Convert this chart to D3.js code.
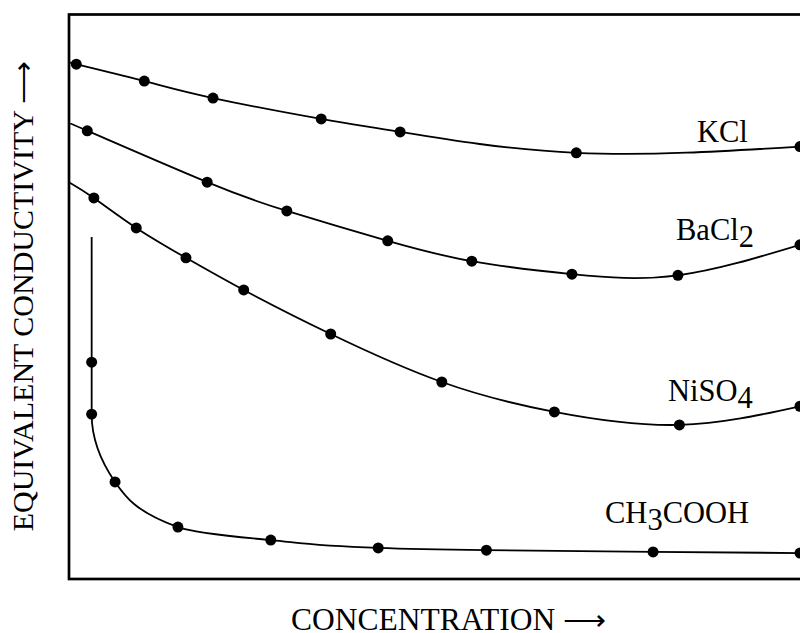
<!DOCTYPE html>
<html>
<head>
<meta charset="utf-8">
<script src="https://cdn.jsdelivr.net/npm/d3@7"></script>
<style>
  html, body { margin: 0; padding: 0; background: #fff; }
  svg { display: block; }
  text { font-family: "Liberation Serif", "Times New Roman", serif; fill: #000; }
</style>
</head>
<body>
<div id="chart"></div>
<script>
// ---- Data (arbitrary units: concentration 0-100, conductivity 0-100) ----
const seriesNames = ["KCl", "BaCl2", "NiSO4", "CH3COOH"];

const kclX = [1.0, 10.3, 19.7, 34.5, 45.3, 69.4, 100];
const kclY = [91.2, 88.2, 85.2, 81.5, 79.2, 75.5, 76.6];
const kclStart = [0, 91.6];

const bacl2X = [2.5, 18.9, 29.8, 43.6, 55.1, 68.8, 83.3, 100];
const bacl2Y = [79.4, 70.3, 65.2, 59.9, 56.3, 54.0, 53.8, 59.2];
const bacl2Start = [0, 80.8];

const niso4X = [3.4, 9.2, 16.0, 23.9, 35.8, 51.0, 66.4, 83.5, 100];
const niso4Y = [67.5, 62.2, 56.9, 51.2, 43.4, 34.9, 29.6, 27.3, 30.6];
const niso4Start = [0, 70.3];

const aceticX = [3.1, 3.1, 6.3, 14.9, 27.6, 42.3, 57.1, 79.9, 100];
const aceticY = [38.4, 29.2, 17.2, 9.2, 6.9, 5.5, 5.1, 4.8, 4.6];
const aceticStart = [3.1, 60.6];

const xAxisTitle = "CONCENTRATION";
const yAxisTitle = "EQUIVALENT CONDUCTIVITY";

// ---- Layout ----
const W = 800, H = 633;
const mLeft = 69, mTop = 14.5, mBottom = 579, rightData = 800, frameRight = 830;

const svg = d3.select("#chart").append("svg")
  .attr("width", W).attr("height", H);

const x = d3.scaleLinear().domain([0, 100]).range([mLeft, rightData]);
const y = d3.scaleLinear().domain([0, 100]).range([mBottom, mTop]);

svg.append("clipPath").attr("id", "plotclip")
  .append("rect").attr("x", mLeft).attr("y", mTop)
  .attr("width", frameRight - mLeft).attr("height", mBottom - mTop);

// frame
svg.append("rect")
  .attr("x", mLeft).attr("y", mTop)
  .attr("width", frameRight - mLeft).attr("height", mBottom - mTop)
  .attr("fill", "none").attr("stroke", "#000").attr("stroke-width", 2.7);

const series = [
  { name: "KCl", xs: kclX, ys: kclY, start: kclStart, curve: d3.curveNatural },
  { name: "BaCl2", xs: bacl2X, ys: bacl2Y, start: bacl2Start, curve: d3.curveNatural },
  { name: "NiSO4", xs: niso4X, ys: niso4Y, start: niso4Start, curve: d3.curveNatural },
  { name: "CH3COOH", xs: aceticX, ys: aceticY, start: aceticStart, curve: d3.curveMonotoneY }
];

series.forEach(s => {
  const line = d3.line().x(d => x(d[0])).y(d => y(d[1])).curve(s.curve);
  const pts = [s.start].concat(s.xs.map((v, i) => [v, s.ys[i]]));
  svg.append("path")
    .attr("d", line(pts))
    .attr("clip-path", "url(#plotclip)")
    .attr("fill", "none").attr("stroke", "#000").attr("stroke-width", 1.8);
  svg.selectAll(null)
    .data(s.xs.map((v, i) => [v, s.ys[i]]))
    .enter().append("circle")
    .attr("cx", d => x(d[0])).attr("cy", d => y(d[1]))
    .attr("r", 5.5).attr("fill", "#000");
});

// series labels
const fs = 30.5;
function label(parts, px, py) {
  const t = svg.append("text").attr("x", px).attr("y", py).attr("font-size", fs);
  parts.forEach(p => {
    const ts = t.append("tspan").text(p.t);
    if (p.sub) ts.attr("dy", 7);
    else if (p.after) ts.attr("dy", -7);
  });
}
label([{ t: "KCl" }], 697, 142);
label([{ t: "BaCl" }, { t: "2", sub: true }], 676, 240);
label([{ t: "NiSO" }, { t: "4", sub: true }], 668, 401);
label([{ t: "CH" }, { t: "3", sub: true }, { t: "COOH", after: true }], 605, 523);

// axis titles
const xt = svg.append("text")
  .attr("x", 448.5).attr("y", 630)
  .attr("text-anchor", "middle").attr("font-size", 31.5);
xt.append("tspan").text(xAxisTitle + " ");
xt.append("tspan").attr("font-size", 30).text("\u27F6");

svg.append("text")
  .attr("transform", "translate(33,296) rotate(-90)")
  .attr("text-anchor", "middle").attr("font-size", 30)
  .text(yAxisTitle + " \u27F6");
</script>
</body>
</html>
